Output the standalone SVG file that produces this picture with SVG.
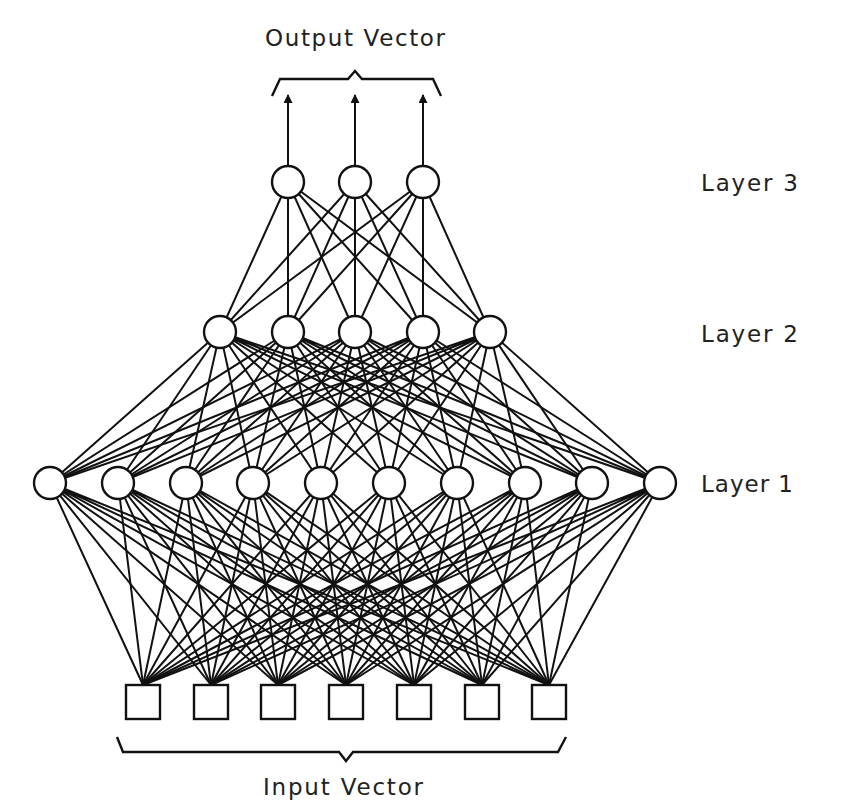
<svg xmlns="http://www.w3.org/2000/svg" width="862" height="804" viewBox="0 0 862 804">
<defs>
<style>
.c{fill:none;stroke:#111;stroke-width:2}
.n{fill:#fff;stroke:#111;stroke-width:2.4}
.b{fill:none;stroke:#111;stroke-width:2.4;stroke-linejoin:miter}
.t{font-family:"DejaVu Sans","Liberation Sans",sans-serif;font-size:23px;fill:#222}
</style>
<marker id="ah" viewBox="0 0 10 10" refX="9" refY="5" markerWidth="12" markerHeight="9" markerUnits="userSpaceOnUse" orient="auto">
<path d="M0 0L10 5L0 10Z" fill="#111"/>
</marker>
</defs>
<rect width="862" height="804" fill="#fff"/>
<g id="connectors">
<path class="c" d="M288 182L220 332M288 182L288 332M288 182L355 332M288 182L423 332M288 182L490 332"/>
<path class="c" d="M355 182L220 332M355 182L288 332M355 182L355 332M355 182L423 332M355 182L490 332"/>
<path class="c" d="M423 182L220 332M423 182L288 332M423 182L355 332M423 182L423 332M423 182L490 332"/>
<path class="c" d="M220 332L50 483M220 332L118 483M220 332L186 483M220 332L253 483M220 332L321 483M220 332L389 483M220 332L457 483M220 332L525 483M220 332L592 483M220 332L660 483"/>
<path class="c" d="M288 332L50 483M288 332L118 483M288 332L186 483M288 332L253 483M288 332L321 483M288 332L389 483M288 332L457 483M288 332L525 483M288 332L592 483M288 332L660 483"/>
<path class="c" d="M355 332L50 483M355 332L118 483M355 332L186 483M355 332L253 483M355 332L321 483M355 332L389 483M355 332L457 483M355 332L525 483M355 332L592 483M355 332L660 483"/>
<path class="c" d="M423 332L50 483M423 332L118 483M423 332L186 483M423 332L253 483M423 332L321 483M423 332L389 483M423 332L457 483M423 332L525 483M423 332L592 483M423 332L660 483"/>
<path class="c" d="M490 332L50 483M490 332L118 483M490 332L186 483M490 332L253 483M490 332L321 483M490 332L389 483M490 332L457 483M490 332L525 483M490 332L592 483M490 332L660 483"/>
<path class="c" d="M50 483L143 685M50 483L211 685M50 483L278 685M50 483L346 685M50 483L414 685M50 483L482 685M50 483L549 685"/>
<path class="c" d="M118 483L143 685M118 483L211 685M118 483L278 685M118 483L346 685M118 483L414 685M118 483L482 685M118 483L549 685"/>
<path class="c" d="M186 483L143 685M186 483L211 685M186 483L278 685M186 483L346 685M186 483L414 685M186 483L482 685M186 483L549 685"/>
<path class="c" d="M253 483L143 685M253 483L211 685M253 483L278 685M253 483L346 685M253 483L414 685M253 483L482 685M253 483L549 685"/>
<path class="c" d="M321 483L143 685M321 483L211 685M321 483L278 685M321 483L346 685M321 483L414 685M321 483L482 685M321 483L549 685"/>
<path class="c" d="M389 483L143 685M389 483L211 685M389 483L278 685M389 483L346 685M389 483L414 685M389 483L482 685M389 483L549 685"/>
<path class="c" d="M457 483L143 685M457 483L211 685M457 483L278 685M457 483L346 685M457 483L414 685M457 483L482 685M457 483L549 685"/>
<path class="c" d="M525 483L143 685M525 483L211 685M525 483L278 685M525 483L346 685M525 483L414 685M525 483L482 685M525 483L549 685"/>
<path class="c" d="M592 483L143 685M592 483L211 685M592 483L278 685M592 483L346 685M592 483L414 685M592 483L482 685M592 483L549 685"/>
<path class="c" d="M660 483L143 685M660 483L211 685M660 483L278 685M660 483L346 685M660 483L414 685M660 483L482 685M660 483L549 685"/>
<line class="c" x1="288" y1="166" x2="288" y2="95" marker-end="url(#ah)"/>
<line class="c" x1="355" y1="166" x2="355" y2="95" marker-end="url(#ah)"/>
<line class="c" x1="423" y1="166" x2="423" y2="95" marker-end="url(#ah)"/>
</g>
<g id="layer3">
<circle id="l3n1" class="n" cx="288" cy="182" r="16"/>
<circle id="l3n2" class="n" cx="355" cy="182" r="16"/>
<circle id="l3n3" class="n" cx="423" cy="182" r="16"/>
</g>
<g id="layer2">
<circle id="l2n1" class="n" cx="220" cy="332" r="16"/>
<circle id="l2n2" class="n" cx="288" cy="332" r="16"/>
<circle id="l2n3" class="n" cx="355" cy="332" r="16"/>
<circle id="l2n4" class="n" cx="423" cy="332" r="16"/>
<circle id="l2n5" class="n" cx="490" cy="332" r="16"/>
</g>
<g id="layer1">
<circle id="l1n1" class="n" cx="50" cy="483" r="16"/>
<circle id="l1n2" class="n" cx="118" cy="483" r="16"/>
<circle id="l1n3" class="n" cx="186" cy="483" r="16"/>
<circle id="l1n4" class="n" cx="253" cy="483" r="16"/>
<circle id="l1n5" class="n" cx="321" cy="483" r="16"/>
<circle id="l1n6" class="n" cx="389" cy="483" r="16"/>
<circle id="l1n7" class="n" cx="457" cy="483" r="16"/>
<circle id="l1n8" class="n" cx="525" cy="483" r="16"/>
<circle id="l1n9" class="n" cx="592" cy="483" r="16"/>
<circle id="l1n10" class="n" cx="660" cy="483" r="16"/>
</g>
<g id="inputs">
<rect id="in1" class="n" x="126" y="685" width="34" height="34"/>
<rect id="in2" class="n" x="194" y="685" width="34" height="34"/>
<rect id="in3" class="n" x="261" y="685" width="34" height="34"/>
<rect id="in4" class="n" x="329" y="685" width="34" height="34"/>
<rect id="in5" class="n" x="397" y="685" width="34" height="34"/>
<rect id="in6" class="n" x="465" y="685" width="34" height="34"/>
<rect id="in7" class="n" x="532" y="685" width="34" height="34"/>
</g>
<g id="output-brace">
<path class="b" d="M272 96L280 79L348 79L355 71L362 79L433 79L441 96"/>
<text class="t" x="265" y="46" textLength="180" lengthAdjust="spacing">Output Vector</text>
</g>
<g id="input-brace">
<path class="b" d="M117 737L123 752L339 752L346 761L353 752L558 752L566 737"/>
<text class="t" x="263" y="795" textLength="160" lengthAdjust="spacing">Input Vector</text>
</g>
<g id="labels">
<text class="t" x="701" y="191" textLength="97" lengthAdjust="spacing">Layer 3</text>
<text class="t" x="701" y="342" textLength="97" lengthAdjust="spacing">Layer 2</text>
<text class="t" x="701" y="492" textLength="92" lengthAdjust="spacing">Layer 1</text>
</g>
</svg>
